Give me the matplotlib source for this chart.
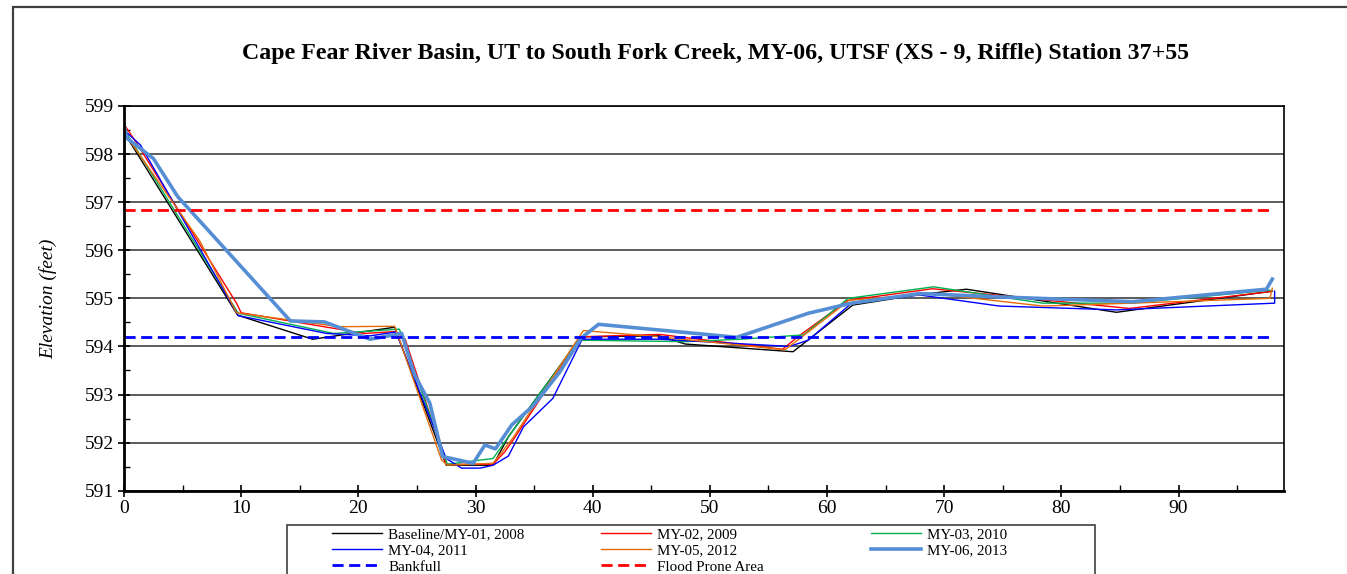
import matplotlib
matplotlib.use('Agg')
import matplotlib.pyplot as plt
from matplotlib.lines import Line2D
from matplotlib.patches import Rectangle
from matplotlib.ticker import MultipleLocator

# Cross-section survey data (station ft, elevation ft)
base_x = [0, 9.7, 16.1, 23.1, 27.5, 31.5, 32.8, 39.0, 45.7, 47.9, 57.1, 62.2, 67.6, 71.9, 84.7, 98.0]
base_y = [598.45, 594.65, 594.15, 594.40, 591.53, 591.53, 592.12, 594.20, 594.22, 594.05, 593.89,
          594.86, 595.07, 595.19, 594.71, 595.15]

my02_x = [0, 1.1, 9.6, 10.0, 20.5, 23.2, 24.0, 27.5, 31.5, 32.5, 33.2, 39.0, 45.7, 56.2, 57.5,
          61.8, 69.0, 85.8, 97.8]
my02_y = [598.62, 598.22, 594.90, 594.70, 594.27, 594.31, 594.15, 591.55, 591.55, 591.81, 592.05,
          594.20, 594.25, 593.94, 594.20, 594.96, 595.20, 594.79, 595.14]

my03_x = [0, 9.75, 17.9, 23.5, 27.6, 31.5, 32.8, 38.8, 47.9, 52.6, 58.0, 61.8, 69.1, 78.4, 86.0, 97.8]
my03_y = [598.52, 594.69, 594.27, 594.36, 591.55, 591.67, 592.12, 594.13, 594.10, 594.15, 594.24,
          595.00, 595.24, 594.90, 594.90, 595.17]

my04_x = [0, 1.4, 9.75, 17.3, 21.0, 23.2, 27.5, 28.8, 30.4, 31.5, 32.8, 34.1, 36.6, 39.1, 45.7,
          56.8, 58.4, 62.1, 67.9, 74.7, 84.7, 98.2, 98.2]
my04_y = [598.50, 598.19, 594.64, 594.27, 594.22, 594.30, 591.67, 591.47, 591.47, 591.53, 591.72,
          592.33, 592.92, 594.15, 594.15, 594.00, 594.13, 594.90, 595.07, 594.84, 594.76, 594.90, 595.15]

my05_x = [0, 6.5, 9.6, 18.4, 23.1, 27.1, 27.6, 31.5, 33.2, 39.2, 45.7, 56.4, 57.7, 61.9, 69.0,
          78.4, 86.0, 97.8, 98.0]
my05_y = [598.45, 596.18, 594.70, 594.41, 594.42, 591.64, 591.53, 591.57, 592.10, 594.33, 594.20,
          593.93, 594.17, 594.96, 595.10, 594.84, 594.90, 595.00, 595.21]

my06_x = [0, 0.25, 2.5, 4.6, 14.2, 17.1, 21.0, 23.7, 24.8, 26.1, 27.2, 29.8, 30.8, 31.7, 33.1,
          34.9, 37.2, 39.0, 40.5, 52.3, 58.4, 62.1, 67.9, 74.7, 86.1, 97.5, 98.0]
my06_y = [598.60, 598.33, 597.91, 597.11, 594.53, 594.51, 594.15, 594.27, 593.41, 592.82, 591.71,
          591.57, 591.95, 591.87, 592.37, 592.76, 593.47, 594.17, 594.46, 594.19, 594.69, 594.90,
          595.10, 595.03, 594.93, 595.19, 595.40]

bankfull_x = [0, 98.0]
bankfull_y = [594.2, 594.2]
flood_x = [0, 98.0]
flood_y = [596.84, 596.84]

plt.rcParams['font.family'] = ['Liberation Serif', 'DejaVu Serif']

fig = plt.figure(figsize=(13.47, 5.74), dpi=100)
W, H = 1347.0, 574.0

# chart outline (cut off at right/bottom like the source)
fig.patches.append(Rectangle((13 / W, -0.1), 1.2, 1 - 7 / H + 0.1, transform=fig.transFigure,
                             fill=False, edgecolor='#404040', linewidth=1.6, zorder=0))

ax = fig.add_axes([124 / W, 1 - 490.7 / H, (1284 - 124) / W, (490.7 - 106) / H])

ax.plot(base_x, base_y, color='black', linewidth=1.0)
ax.plot(my02_x, my02_y, color='#FF0000', linewidth=1.0)
ax.plot(my03_x, my03_y, color='#00B050', linewidth=1.0)
ax.plot(my04_x, my04_y, color='#0000FF', linewidth=1.0)
ax.plot(my05_x, my05_y, color='#E46C0A', linewidth=1.0)
ax.plot(my06_x, my06_y, color='#558ED5', linewidth=2.6)
ax.plot(bankfull_x, bankfull_y, color='#0000FF', linewidth=2.0, dashes=(4, 2))
ax.plot(flood_x, flood_y, color='#FF0000', linewidth=2.0, dashes=(4, 2))

ax.set_xlim(0, 99)
ax.set_ylim(591, 599)
ax.xaxis.set_major_locator(MultipleLocator(10))
ax.xaxis.set_minor_locator(MultipleLocator(5))
ax.yaxis.set_major_locator(MultipleLocator(1))
ax.yaxis.set_minor_locator(MultipleLocator(0.5))
ax.tick_params(which='major', direction='inout', length=8, width=1.2, labelsize=14, pad=3)
ax.tick_params(which='minor', direction='in', length=4, width=1.0)
ax.grid(axis='y', which='major', color='#404040', linewidth=1.2)
ax.set_axisbelow(True)
for side in ['left', 'bottom']:
    ax.spines[side].set_linewidth(2.0)
for side in ['top', 'right']:
    ax.spines[side].set_linewidth(1.2)

ax.set_ylabel('Elevation (feet)', fontsize=14, style='italic', labelpad=20)

fig.text(716 / W, 1 - 53 / H, 'Cape Fear River Basin, UT to South Fork Creek, MY-06, UTSF (XS - 9, Riffle) Station 37+55',
         ha='center', va='center', fontsize=17.2, fontweight='bold')

# legend: three columns inside one box
fig.patches.append(Rectangle((287 / W, -0.1), (1095 - 287) / W, 0.1 + 1 - 525 / H,
                             transform=fig.transFigure, fill=False, edgecolor='#404040',
                             linewidth=1.2, zorder=5))
cols = [
    ([Line2D([], [], color='black', lw=1.0), Line2D([], [], color='#0000FF', lw=1.0),
      Line2D([], [], color='#0000FF', lw=2.0, dashes=(4, 2))],
     ['Baseline/MY-01, 2008', 'MY-04, 2011', 'Bankfull'], 323),
    ([Line2D([], [], color='#FF0000', lw=1.0), Line2D([], [], color='#E46C0A', lw=1.0),
      Line2D([], [], color='#FF0000', lw=2.0, dashes=(4, 2))],
     ['MY-02, 2009', 'MY-05, 2012', 'Flood Prone Area'], 592),
    ([Line2D([], [], color='#00B050', lw=1.0), Line2D([], [], color='#558ED5', lw=2.6)],
     ['MY-03, 2010', 'MY-06, 2013'], 862),
]
for handles, labels, xpx in cols:
    leg = fig.legend(handles, labels, loc='upper left', bbox_to_anchor=(xpx / W, 1 - 519 / H),
                     frameon=False, fontsize=10.8, handlelength=3.3, handletextpad=0.45,
                     labelspacing=0.17, borderpad=0.1)

plt.savefig('out.png', dpi=100)
plt.close()
